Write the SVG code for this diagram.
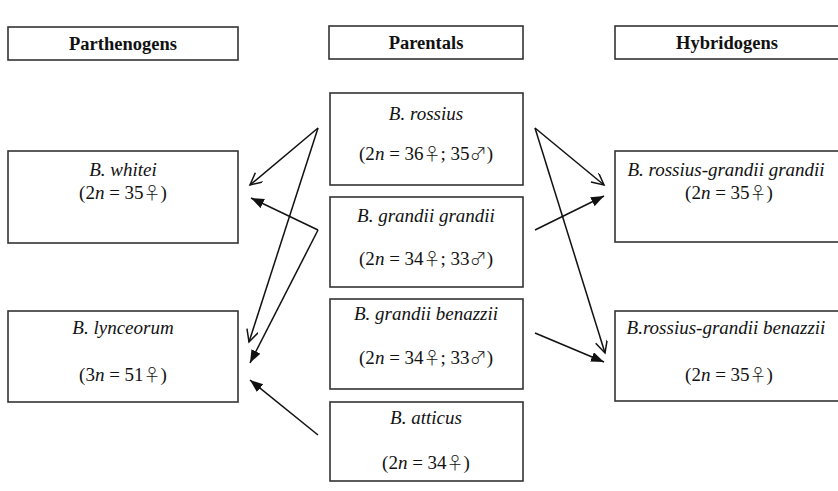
<svg xmlns="http://www.w3.org/2000/svg" width="838" height="491" viewBox="0 0 838 491">
<style>
.box{fill:#fff;stroke:#333;stroke-width:1.6}
.hd{font-family:"Liberation Serif","DejaVu Serif",serif;font-size:18.5px;font-weight:bold;fill:#111;text-anchor:middle}
.nm{font-family:"Liberation Serif","DejaVu Serif",serif;font-size:19px;font-style:italic;fill:#111;text-anchor:middle}
.fm{font-family:"Liberation Serif","DejaVu Serif",serif;font-size:19px;fill:#111;text-anchor:middle}
.fm tspan.i{font-style:italic}
.fm tspan.s{font-family:"Noto Sans CJK JP","DejaVu Sans",sans-serif;font-weight:300;font-size:17px}
.ln{stroke:#111;stroke-width:1.5;fill:none}
.op{marker-end:url(#open)}
.fl{marker-end:url(#fill)}
</style>
<defs>
<marker id="open" markerUnits="userSpaceOnUse" markerWidth="16" markerHeight="14" refX="13" refY="6" orient="auto">
<path d="M1,0 L13,6 L1,12" fill="none" stroke="#111" stroke-width="1.5"/>
</marker>
<marker id="fill" markerUnits="userSpaceOnUse" markerWidth="16" markerHeight="12" refX="13" refY="5" orient="auto">
<path d="M0,0 L13,5 L0,10 z" fill="#111"/>
</marker>
</defs>
<g id="hdr-parthenogens"><rect class="box" x="8" y="27" width="230" height="33"/><text class="hd" x="123" y="50">Parthenogens</text></g>
<g id="hdr-parentals"><rect class="box" x="329" y="26" width="194" height="33"/><text class="hd" x="426" y="49">Parentals</text></g>
<g id="hdr-hybridogens"><rect class="box" x="615" y="26" width="230" height="33"/><text class="hd" x="727" y="49">Hybridogens</text></g>

<g id="whitei"><rect class="box" x="8" y="151" width="230" height="92"/><text class="nm" x="123" y="176">B. whitei</text><text class="fm" x="123" y="199">(2<tspan class="i">n</tspan> = 35<tspan class="s">♀</tspan>)</text></g>
<g id="lynceorum"><rect class="box" x="8" y="311" width="230" height="91"/><text class="nm" x="123" y="334">B. lynceorum</text><text class="fm" x="123" y="381">(3<tspan class="i">n</tspan> = 51<tspan class="s">♀</tspan>)</text></g>

<g id="rossius"><rect class="box" x="330" y="93" width="193" height="92"/><text class="nm" x="426" y="120">B. rossius</text><text class="fm" x="426" y="160">(2<tspan class="i">n</tspan> = 36<tspan class="s">♀</tspan>; 35<tspan class="s">♂</tspan>)</text></g>
<g id="grandii-grandii"><rect class="box" x="330" y="197" width="193" height="90"/><text class="nm" x="426" y="222">B. grandii grandii</text><text class="fm" x="426" y="265">(2<tspan class="i">n</tspan> = 34<tspan class="s">♀</tspan>; 33<tspan class="s">♂</tspan>)</text></g>
<g id="grandii-benazzii"><rect class="box" x="330" y="299" width="193" height="90"/><text class="nm" x="426" y="320">B. grandii benazzii</text><text class="fm" x="426" y="364">(2<tspan class="i">n</tspan> = 34<tspan class="s">♀</tspan>; 33<tspan class="s">♂</tspan>)</text></g>
<g id="atticus"><rect class="box" x="330" y="402" width="193" height="79"/><text class="nm" x="426" y="424">B. atticus</text><text class="fm" x="426" y="469">(2<tspan class="i">n</tspan> = 34<tspan class="s">♀</tspan>)</text></g>

<g id="rg-grandii"><rect class="box" x="615" y="151" width="230" height="91"/><text class="nm" x="726" y="176">B. rossius-grandii grandii</text><text class="fm" x="729" y="199">(2<tspan class="i">n</tspan> = 35<tspan class="s">♀</tspan>)</text></g>
<g id="rg-benazzii"><rect class="box" x="615" y="311" width="230" height="90"/><text class="nm" x="726" y="334">B.rossius-grandii benazzii</text><text class="fm" x="729" y="381">(2<tspan class="i">n</tspan> = 35<tspan class="s">♀</tspan>)</text></g>

<g id="connectors">
<line class="ln op" x1="318" y1="128" x2="250" y2="185"/>
<line class="ln op" x1="318" y1="128" x2="249" y2="342"/>
<line class="ln fl" x1="318" y1="230" x2="251" y2="198"/>
<line class="ln fl" x1="318" y1="230" x2="250" y2="363"/>
<line class="ln fl" x1="318" y1="435" x2="250" y2="380"/>
<line class="ln op" x1="535" y1="128" x2="604" y2="185"/>
<line class="ln op" x1="535" y1="128" x2="605" y2="353"/>
<line class="ln fl" x1="535" y1="230" x2="604" y2="196"/>
<line class="ln fl" x1="535" y1="333" x2="604" y2="362"/>
</g>
</svg>
